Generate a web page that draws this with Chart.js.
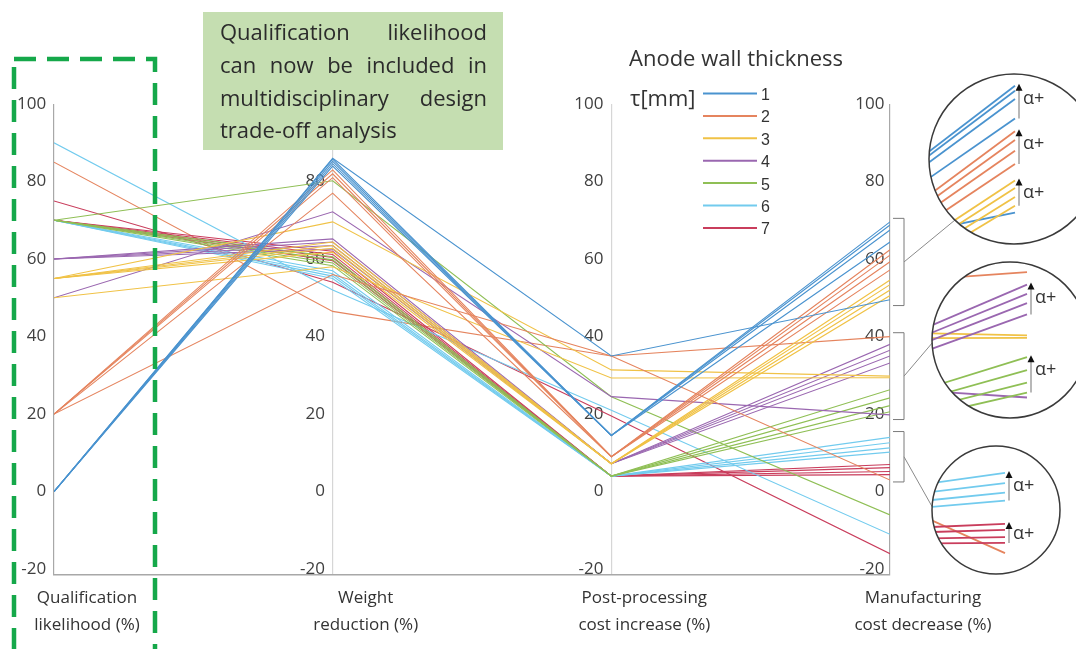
<!DOCTYPE html>
<html>
<head>
<meta charset="utf-8">
<script src="https://cdn.jsdelivr.net/npm/chart.js@4.4.0/dist/chart.umd.min.js"></script>
<style>
  body { margin: 0; background: #fff; }
</style>
</head>
<body>
<canvas id="pc" width="1076" height="649"></canvas>
<script>
// axis titles (one entry per parallel axis)
const axisNames = [
    ['Qualification', 'likelihood (%)'],
    ['Weight', 'reduction (%)'],
    ['Post-processing', 'cost increase (%)'],
    ['Manufacturing', 'cost decrease (%)']
];
const thickness = ['1', '2', '3', '4', '5', '6', '7'];
const groupColors = ['#4a93cf', '#e5845e', '#f0c246', '#9a67b0', '#8fbf55', '#72cbee', '#c93d5c'];

// one entry per design: anode wall thickness group, alpha step (0 = none)
const tau        = [1, 1, 1, 1, 1,   2, 2, 2, 2, 2,   3, 3, 3, 3, 3, 3,   4, 4, 4, 4, 4,   5, 5, 5, 5, 5,   6, 6, 6, 6, 6,   7, 7, 7, 7, 2, 7];
const alphaLevel = [1, 2, 3, 4, 0,   1, 2, 3, 4, 0,   1, 2, 3, 4, 0, 0,   1, 2, 3, 4, 0,   1, 2, 3, 4, 0,   1, 2, 3, 4, 0,   1, 2, 3, 4, 0, 0];
const qualification   = [0, 0, 0, 0, 0,   20, 20, 20, 20, 20,   55, 55, 55, 55, 55, 50,   60, 60, 60, 60, 50,   70, 70, 70, 70, 70,   70, 70, 70, 70, 90,   70, 70, 70, 70, 85, 75];
const weightReduction = [84.0, 84.6, 85.2, 85.8, 86.0,   77.0, 81.0, 82.0, 83.0, 56.0,   61.8, 62.8, 63.5, 64.4, 69.6, 58.0,   62.6, 63.5, 64.4, 65.2, 72.2,   58.3, 59.0, 59.8, 60.6, 80.2,   55.0, 55.6, 56.2, 57.0, 52.0,   59.6, 60.4, 61.2, 62.0, 46.5, 54.0];
const postCost        = [14.5, 14.5, 14.5, 14.5, 35,   9, 9, 9, 9, 35,   7.2, 7.2, 7.2, 7.2, 31.4, 29.3,   7.2, 7.2, 7.2, 7.2, 24.5,   4, 4, 4, 4, 24.5,   4, 4, 4, 4, 21,   4, 4, 4, 4, 35, 19.5];
const manufCost       = [64.4, 67.5, 68.8, 69.6, 49.5,   57.2, 59.3, 61.0, 62.4, 3,   50.6, 52.0, 53.4, 54.6, 29.8, 29.4,   33.2, 35.0, 36.5, 38.0, 19.8,   20.6, 22.2, 24.2, 26.3, -6,   10.2, 11.3, 12.6, 14.0, -11,   4.4, 5.2, 6.2, 7.0, 40, -16];

// value ranges magnified in the three circles
const insetRanges = [[48, 70.5], [18.6, 41], [2.5, 15.5]];
const boxText = ['Qualification likelihood', 'can now be included in', 'multidisciplinary design', 'trade-off analysis'];

const FONT = "'Open Sans', 'Noto Sans', sans-serif";

const datasets = tau.map((g, i) => ({
    label: 'τ=' + thickness[g - 1],
    data: [qualification[i], weightReduction[i], postCost[i], manufCost[i]].map((v, k) => ({ x: k, y: v })),
    borderColor: groupColors[g - 1],
    borderWidth: 1.1,
    pointRadius: 0,
    tension: 0,
    fill: false
}));

function yAxis(pos) {
    return {
        type: 'linear', min: -21.4, max: 100,
        position: { x: pos },
        border: { display: false },
        grid: { display: false },
        ticks: { stepSize: 20, includeBounds: false, color: '#404040', font: { family: FONT, size: 17 } }
    };
}

function justify(ctx, line, x, y, width) {
    const words = line.split(' ');
    const total = words.reduce((s, w) => s + ctx.measureText(w).width, 0);
    const gap = (width - total) / (words.length - 1);
    let cx = x;
    words.forEach(w => { ctx.fillText(w, cx, y); cx += ctx.measureText(w).width + gap; });
}

const circles = [
    { cx: 1014, cy: 159, r: 85, endX: 1015, topY: 80, s: 1.63, link: [955, 220] },
    { cx: 1010, cy: 340, r: 78, endX: 1027, topY: 266, s: 1.6, link: [933, 342] },
    { cx: 996, cy: 510, r: 64, endX: 1005, topY: 462, s: 1.88, link: [934, 510] }
];

const annotate = {
    id: 'annotate',
    afterDraw(chart) {
        const ctx = chart.ctx;
        const xs = chart.scales.x, ys = chart.scales.y;
        const x3 = xs.getPixelForValue(2), x4 = xs.getPixelForValue(3);
        ctx.save();

        // brackets, links and magnified circles
        insetRanges.forEach((rng, c) => {
            const cir = circles[c];
            const yTop = ys.getPixelForValue(rng[1]), yBot = ys.getPixelForValue(rng[0]);
            const bx = x4 + 14;
            ctx.strokeStyle = '#7a7a7a';
            ctx.lineWidth = 1;
            ctx.beginPath();
            ctx.moveTo(x4 + 3, yTop); ctx.lineTo(bx, yTop); ctx.lineTo(bx, yBot); ctx.lineTo(x4 + 3, yBot);
            ctx.stroke();
            ctx.strokeStyle = '#8a8a8a';
            ctx.beginPath();
            ctx.moveTo(bx, (yTop + yBot) / 2); ctx.lineTo(cir.link[0], cir.link[1]);
            ctx.stroke();

            const tx = px => cir.endX + (px - x4) * cir.s;
            const ty = py => cir.topY + (py - yTop) * cir.s;

            ctx.save();
            ctx.beginPath();
            ctx.arc(cir.cx, cir.cy, cir.r, 0, Math.PI * 2);
            ctx.fillStyle = '#fff';
            ctx.fill();
            ctx.clip();
            ctx.lineWidth = 1.8;
            tau.forEach((g, i) => {
                ctx.strokeStyle = groupColors[g - 1];
                ctx.beginPath();
                ctx.moveTo(tx(x3), ty(ys.getPixelForValue(postCost[i])));
                ctx.lineTo(tx(x4), ty(ys.getPixelForValue(manufCost[i])));
                ctx.stroke();
            });
            ctx.restore();

            ctx.strokeStyle = '#3a3a3a';
            ctx.lineWidth = 1.5;
            ctx.beginPath();
            ctx.arc(cir.cx, cir.cy, cir.r, 0, Math.PI * 2);
            ctx.stroke();

            // alpha arrows for each thickness group ending in this range
            thickness.forEach((t, gi) => {
                const ends = tau.map((g, i) => (g === gi + 1 && alphaLevel[i] > 0 && manufCost[i] >= rng[0] && manufCost[i] <= rng[1])
                    ? ty(ys.getPixelForValue(manufCost[i])) : null).filter(v => v !== null);
                if (ends.length < 2) return;
                const top = Math.min(...ends), bot = Math.max(...ends);
                const ax = cir.endX + 4;
                ctx.strokeStyle = '#a0a0a0';
                ctx.lineWidth = 1.5;
                ctx.beginPath();
                ctx.moveTo(ax, bot); ctx.lineTo(ax, top + 4);
                ctx.stroke();
                ctx.fillStyle = '#111';
                ctx.beginPath();
                ctx.moveTo(ax, top - 2); ctx.lineTo(ax - 3.5, top + 5); ctx.lineTo(ax + 3.5, top + 5);
                ctx.closePath();
                ctx.fill();
                ctx.fillStyle = '#333';
                ctx.font = '18px ' + FONT;
                ctx.textAlign = 'left';
                ctx.textBaseline = 'middle';
                ctx.fillText('α+', ax + 4, Math.min((top + bot) / 2, top + 13));
            });
        });

        // legend
        ctx.fillStyle = '#333';
        ctx.font = '22px ' + FONT;
        ctx.textAlign = 'left';
        ctx.textBaseline = 'middle';
        ctx.fillText('Anode wall thickness', 629, 60);
        ctx.fillText('τ[mm]', 630, 100);
        ctx.font = '16px "Liberation Sans", Arial, sans-serif';
        thickness.forEach((t, i) => {
            const ly = 93.5 + i * 22.4;
            ctx.strokeStyle = groupColors[i];
            ctx.lineWidth = 2;
            ctx.beginPath();
            ctx.moveTo(703, ly); ctx.lineTo(757, ly);
            ctx.stroke();
            ctx.fillStyle = '#333';
            ctx.fillText(t, 761, ly + 2);
        });

        // green note box
        ctx.fillStyle = '#c5deb1';
        ctx.fillRect(203, 12, 300, 138);
        ctx.fillStyle = '#2b2b2b';
        ctx.font = '22px ' + FONT;
        boxText.forEach((line, i) => {
            const y = 34 + i * 32.7;
            if (i < boxText.length - 1) justify(ctx, line, 220, y, 267);
            else ctx.fillText(line, 220, y);
        });

        // dashed highlight around the first axis
        ctx.strokeStyle = '#15a84a';
        ctx.lineWidth = 4.5;
        ctx.setLineDash([22, 11]);
        ctx.strokeRect(14, 59, 141, 600);
        ctx.restore();
    }
};

new Chart(document.getElementById('pc'), {
    type: 'line',
    data: { datasets: datasets },
    options: {
        responsive: false,
        animation: false,
        layout: { padding: { left: 54, right: 186, top: 104, bottom: 0 } },
        plugins: { legend: { display: false }, tooltip: { enabled: false } },
        scales: {
            x: {
                type: 'linear', min: 0, max: 3,
                grid: {
                    drawTicks: false,
                    lineWidth: 1.2,
                    color: c => (c.tick && (c.tick.value === 0 || c.tick.value === 3)) ? '#a8a8a8' : '#d6d6d6'
                },
                border: { color: '#a8a8a8', width: 1.5 },
                ticks: {
                    stepSize: 1, labelOffset: 33, padding: 10, color: '#333',
                    font: { family: FONT, size: 17, lineHeight: 1.6 },
                    callback: v => axisNames[v]
                },
                afterFit: s => { s.paddingLeft = 0; s.paddingRight = 0; }
            },
            y: yAxis(-0.028),
            y1: yAxis(0.972),
            y2: yAxis(1.972),
            y3: yAxis(2.98)
        }
    },
    plugins: [annotate]
});
</script>
</body>
</html>
